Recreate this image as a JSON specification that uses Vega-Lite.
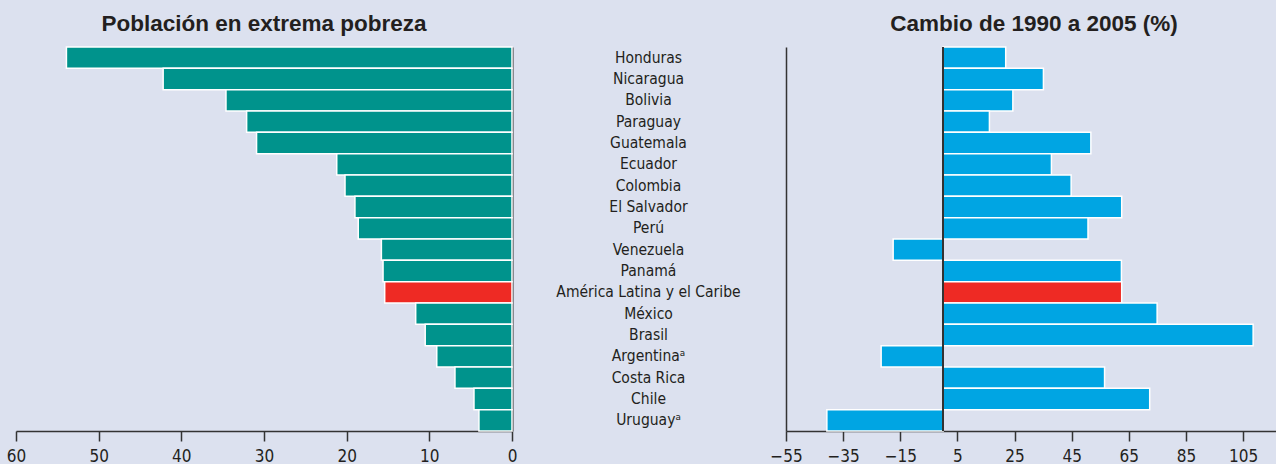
{
  "$schema": "https://vega.github.io/schema/vega-lite/v6.json",
  "background": "#dce1ef",
  "padding": {"left": 6, "top": 12, "right": 0, "bottom": 0},
  "bounds": "flush",
  "spacing": 274,
  "datasets": {
    "d": [
      {"pais": "Honduras", "pobreza": 53.9, "cambio": 21.9},
      {"pais": "Nicaragua", "pobreza": 42.2, "cambio": 35.1},
      {"pais": "Bolivia", "pobreza": 34.6, "cambio": 24.4},
      {"pais": "Paraguay", "pobreza": 32.1, "cambio": 16.2},
      {"pais": "Guatemala", "pobreza": 30.9, "cambio": 51.7},
      {"pais": "Ecuador", "pobreza": 21.2, "cambio": 37.9},
      {"pais": "Colombia", "pobreza": 20.2, "cambio": 44.8},
      {"pais": "El Salvador", "pobreza": 19.0, "cambio": 62.5},
      {"pais": "Perú", "pobreza": 18.6, "cambio": 50.7},
      {"pais": "Venezuela", "pobreza": 15.8, "cambio": -17.5},
      {"pais": "Panamá", "pobreza": 15.6, "cambio": 62.4},
      {"pais": "América Latina y el Caribe", "pobreza": 15.4, "cambio": 62.5},
      {"pais": "México", "pobreza": 11.65, "cambio": 74.9},
      {"pais": "Brasil", "pobreza": 10.5, "cambio": 108.5},
      {"pais": "Argentinaᵃ", "pobreza": 9.1, "cambio": -21.7},
      {"pais": "Costa Rica", "pobreza": 6.9, "cambio": 56.5},
      {"pais": "Chile", "pobreza": 4.6, "cambio": 72.3},
      {"pais": "Uruguayᵃ", "pobreza": 4.0, "cambio": -40.7}
    ]
  },
  "config": {
    "view": {"stroke": null},
    "axis": {
      "grid": false,
      "domainColor": "#333333",
      "domainWidth": 1.5,
      "tickColor": "#333333",
      "tickWidth": 1.5,
      "tickSize": 10,
      "labelColor": "#231f20",
      "labelFont": "Liberation Sans Narrow, DejaVu Sans Condensed, sans-serif",
      "labelFontSize": 17,
      "labelPadding": 7,
      "labelFlush": false,
      "labelOverlap": false,
      "labelLimit": 0
    },
    "title": {
      "font": "Liberation Sans, Arial, sans-serif",
      "fontSize": 22.5,
      "fontWeight": "bold",
      "color": "#231f20",
      "offset": 11
    }
  },
  "hconcat": [
    {
      "width": 496,
      "height": 384,
      "data": {"name": "d"},
      "title": {"text": "Población en extrema pobreza"},
      "mark": {"type": "bar", "stroke": "white", "strokeWidth": 1.5},
      "encoding": {
        "y": {
          "field": "pais", "type": "nominal", "sort": null,
          "scale": {"paddingInner": 0, "paddingOuter": 0},
          "axis": {"orient": "right", "labels": false, "ticks": false, "title": null, "domainWidth": 2}
        },
        "x": {
          "field": "pobreza", "type": "quantitative",
          "scale": {"domain": [0, 60], "reverse": true, "nice": false},
          "axis": {"values": [0, 10, 20, 30, 40, 50, 60], "title": null}
        },
        "color": {
          "condition": {"test": "datum.pais === 'América Latina y el Caribe'", "value": "#ee2a24"},
          "value": "#00938c"
        }
      }
    },
    {
      "width": 490,
      "height": 384,
      "data": {"name": "d"},
      "title": {"text": "Cambio de 1990 a 2005 (%)", "dx": 3},
      "layer": [
        {
          "mark": {"type": "bar", "stroke": "white", "strokeWidth": 1.5},
          "encoding": {
            "y": {
              "field": "pais", "type": "nominal", "sort": null,
              "scale": {"paddingInner": 0, "paddingOuter": 0},
              "axis": {"orient": "left", "labelAlign": "center", "labelPadding": 138, "ticks": false, "title": null, "labelFontSize": 15.5}
            },
            "x": {
              "field": "cambio", "type": "quantitative",
              "scale": {"domain": [-55, 116.5], "nice": false, "zero": false},
              "axis": {"values": [-55, -35, -15, 5, 25, 45, 65, 85, 105], "title": null}
            },
            "color": {
              "condition": {"test": "datum.pais === 'América Latina y el Caribe'", "value": "#ee2a24"},
              "value": "#00a5e3"
            }
          }
        },
        {
          "mark": {"type": "rule", "color": "#333333", "strokeWidth": 1.5},
          "encoding": {"x": {"datum": 0}}
        }
      ]
    }
  ]
}
